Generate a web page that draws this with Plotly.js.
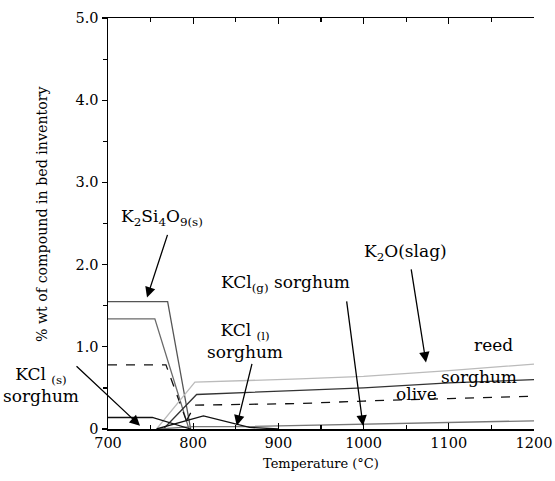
<!DOCTYPE html>
<html>
<head>
<meta charset="utf-8">
<script src="https://cdn.plot.ly/plotly-3.0.1.min.js"></script>
<style>html,body{margin:0;padding:0;background:#fff;}#chart{width:555px;height:481px;}</style>
</head>
<body>
<div id="chart"></div>
<script>
// Temperature (°C) and % wt of compound in bed inventory
const k2si4o9ReedT = [700, 770, 797];
const k2si4o9ReedWt = [1.55, 1.55, 0.0];
const k2si4o9SorghumT = [700, 755, 795];
const k2si4o9SorghumWt = [1.34, 1.34, 0.0];
const k2si4o9OliveT = [700, 768, 792];
const k2si4o9OliveWt = [0.78, 0.78, 0.10];

const k2oReedT = [757, 802, 925, 1000, 1100, 1200];
const k2oReedWt = [0.0, 0.57, 0.61, 0.64, 0.71, 0.79];
const k2oSorghumT = [765, 804, 925, 1000, 1100, 1200];
const k2oSorghumWt = [0.0, 0.42, 0.47, 0.50, 0.56, 0.60];
const k2oOliveT = [792, 802, 925, 1000, 1100, 1200];
const k2oOliveWt = [0.10, 0.29, 0.31, 0.34, 0.37, 0.40];

const kclGasT = [760, 800, 860, 1000, 1100, 1200];
const kclGasWt = [0.0, 0.03, 0.03, 0.06, 0.085, 0.10];
const kclSolidT = [700, 752, 797];
const kclSolidWt = [0.14, 0.14, 0.0];
const kclLiquidT = [757, 812, 866, 900];
const kclLiquidWt = [0.0, 0.16, 0.02, 0.0];

const xTickVals = [700, 800, 900, 1000, 1100, 1200];
const yTickVals = [0, 1, 2, 3, 4, 5];
const yTickText = ['0', '1.0', '2.0', '3.0', '4.0', '5.0'];
const yMinorVals = [0.5, 1.5, 2.5, 3.5, 4.5];

const FONT = 'DejaVu Serif';

function tr(x, y, color, dash) {
  return {x: x, y: y, type: 'scatter', mode: 'lines', showlegend: false,
    hoverinfo: 'skip', line: {color: color, width: 1.3, dash: dash || 'solid'}};
}

const data = [
  tr(k2si4o9ReedT, k2si4o9ReedWt, '#555'),
  tr(k2si4o9SorghumT, k2si4o9SorghumWt, '#6a6a6a'),
  tr(k2si4o9OliveT, k2si4o9OliveWt, '#111', 'dash'),
  tr(k2oReedT, k2oReedWt, '#bbb'),
  tr(k2oSorghumT, k2oSorghumWt, '#333'),
  tr(k2oOliveT, k2oOliveWt, '#111', 'dash'),
  tr(kclGasT, kclGasWt, '#777'),
  tr(kclSolidT, kclSolidWt, '#111'),
  tr(kclLiquidT, kclLiquidWt, '#111')
];

function label(text, x, y, xref, yref, angle, size) {
  return {text: text, x: x, y: y, xref: xref || 'x', yref: yref || 'y', showarrow: false,
    textangle: angle || 0,
    xanchor: 'center', yanchor: 'middle', font: {family: FONT, size: size || 17, color: '#000'}};
}
function arrow(tx, ty, hx, hy) {
  return {text: '', x: hx, y: hy, ax: tx, ay: ty, xref: 'x', yref: 'y', axref: 'x', ayref: 'y',
    showarrow: true, arrowhead: 2, arrowsize: 1.6, arrowwidth: 1.3, arrowcolor: '#000'};
}

const layout = {
  width: 555, height: 481,
  margin: {l: 108, r: 21, t: 18, b: 52},
  paper_bgcolor: '#fff', plot_bgcolor: '#fff',
  font: {family: FONT, size: 14.5, color: '#000'},
  showlegend: false,
  xaxis: {
    range: [700, 1200], tickmode: 'array', tickvals: xTickVals,
    ticks: 'inside', ticklen: 6, tickwidth: 1.2, tickcolor: '#000',
    minor: {tickmode: 'linear', tick0: 750, dtick: 100, ticks: 'inside', ticklen: 4, tickcolor: '#000', tickwidth: 1.2},
    showline: true, linecolor: '#000', linewidth: 1.5, mirror: 'ticks',
    showgrid: false, zeroline: false,
    tickfont: {family: FONT, size: 14.5}
  },
  yaxis: {
    range: [0, 5], tickmode: 'array', tickvals: yTickVals, ticktext: yTickText,
    ticks: 'outside', ticklen: 5, tickwidth: 1.2, tickcolor: '#000',
    minor: {tickmode: 'array', tickvals: yMinorVals, ticks: 'outside', ticklen: 4, tickcolor: '#000', tickwidth: 1.2},
    showline: true, linecolor: '#000', linewidth: 1.5,
    showgrid: false, zeroline: false,
    tickfont: {family: FONT, size: 14.5}
  },
  yaxis2: {
    overlaying: 'y', side: 'right', range: [0, 5], tickmode: 'array', tickvals: yTickVals,
    ticks: 'inside', ticklen: 5, tickwidth: 1.2, tickcolor: '#000',
    minor: {tickmode: 'array', tickvals: yMinorVals, ticks: 'inside', ticklen: 4, tickcolor: '#000', tickwidth: 1.2},
    showticklabels: false, showline: true, linecolor: '#000', linewidth: 1.5,
    showgrid: false, zeroline: false
  },
  annotations: [
    label('Temperature (°C)', 0.5, -0.085, 'paper', 'paper', 0, 13),
    label('% wt of compound in bed inventory', -0.155, 0.523, 'paper', 'paper', -90, 14.2),
    label('K<sub>2</sub>Si<sub>4</sub>O<sub>9(s)</sub>', 763, 2.57),
    arrow(770.4, 2.38, 745.8, 1.60),
    label('KCl<sub>(g)</sub> sorghum', 908, 1.77),
    arrow(979.9, 1.57, 999.3, 0.04),
    label('K<sub>2</sub>O(slag)', 1048.6, 2.15),
    arrow(1055.6, 1.96, 1073.2, 0.81),
    label('KCl <sub>(l)</sub><br>sorghum', 861, 1.07),
    arrow(869.4, 0.81, 851.1, 0.04),
    label('KCl <sub>(s)</sub><br>sorghum', -0.157, 0.53, 'paper'),
    arrow(661.3, 0.78, 737.6, 0.04),
    label('reed', 1152, 1.02),
    label('sorghum', 1136, 0.63),
    label('olive', 1061.5, 0.43)
  ]
};

Plotly.newPlot('chart', data, layout, {displayModeBar: false, staticPlot: true});
</script>
</body>
</html>
